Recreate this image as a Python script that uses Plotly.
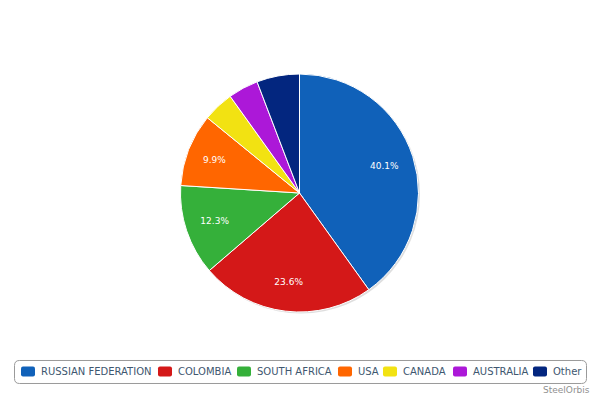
import plotly.graph_objects as go

categories = ["RUSSIAN FEDERATION", "COLOMBIA", "SOUTH AFRICA", "USA", "CANADA", "AUSTRALIA", "Other"]
shares = [40.1, 23.6, 12.3, 9.9, 4.2, 4.1, 5.8]
colors = ["#1061B9", "#D41818", "#35B03A", "#FF6600", "#F2E212", "#AC18D8", "#03267F"]
label_min = 8.0  # only larger slices carry a percentage label

W, H = 600, 397
cx, cy, r = 299.5, 193.0, 119.0

def px_dom(x0, x1, y0, y1):
    return dict(x=[x0 / W, x1 / W], y=[1 - y1 / H, 1 - y0 / H])

texts = [f"{v:.1f}%" if v >= label_min else "" for v in shares]
dom = px_dom(cx - r, cx + r, cy - r, cy + r)

fig = go.Figure()
# soft shadow behind the pie
fig.add_trace(go.Pie(
    labels=["_shadow"], values=[1], sort=False,
    domain=px_dom(cx - r + 1.5, cx + r + 1.5, cy - r + 1.5, cy + r + 1.5),
    marker=dict(colors=["rgba(0,0,0,0.13)"], line=dict(width=0)),
    textinfo="none", hoverinfo="skip", showlegend=False,
))
fig.add_trace(go.Pie(
    labels=categories, values=shares, sort=False, direction="clockwise", rotation=0,
    domain=dom,
    marker=dict(colors=colors, line=dict(color="#FFFFFF", width=1)),
    textinfo="none",
    hovertemplate="%{label}: %{value:.1f}%<extra></extra>",
    showlegend=False,
))
# transparent ring carrying the percentage labels at ~3/4 radius
fig.add_trace(go.Pie(
    labels=categories, values=shares, sort=False, direction="clockwise", rotation=0,
    domain=dom, hole=0.5,
    marker=dict(colors=["rgba(0,0,0,0)"] * len(shares), line=dict(width=0)),
    text=texts, textinfo="text", textposition="inside",
    insidetextorientation="horizontal",
    insidetextfont=dict(family="DejaVu Sans", size=9, color="#FFFFFF"),
    hovertemplate="%{label}: %{value:.1f}%<extra></extra>",
    showlegend=False,
))

shapes = []
annotations = []
bx0, bx1, by0, by1, rad = 14.5, 586.5, 360.5, 383.5, 5
def P(x, y):
    return f"{x / W:.5f},{1 - y / H:.5f}"
path = (f"M {P(bx0 + rad, by0)} L {P(bx1 - rad, by0)} Q {P(bx1, by0)} {P(bx1, by0 + rad)} "
        f"L {P(bx1, by1 - rad)} Q {P(bx1, by1)} {P(bx1 - rad, by1)} "
        f"L {P(bx0 + rad, by1)} Q {P(bx0, by1)} {P(bx0, by1 - rad)} "
        f"L {P(bx0, by0 + rad)} Q {P(bx0, by0)} {P(bx0 + rad, by0)} Z")
shapes.append(dict(type="path", xref="paper", yref="paper", path=path,
                   line=dict(color="#9A9A9A", width=1), fillcolor="rgba(0,0,0,0)"))

item_x = [21, 158, 237, 338, 383, 453, 533]
sy0, sy1 = 366.5, 376.5
for name, col, x in zip(categories, colors, item_x):
    x0, x1 = x, x + 14
    sr = 2
    sp = (f"M {P(x0 + sr, sy0)} L {P(x1 - sr, sy0)} Q {P(x1, sy0)} {P(x1, sy0 + sr)} "
          f"L {P(x1, sy1 - sr)} Q {P(x1, sy1)} {P(x1 - sr, sy1)} "
          f"L {P(x0 + sr, sy1)} Q {P(x0, sy1)} {P(x0, sy1 - sr)} "
          f"L {P(x0, sy0 + sr)} Q {P(x0, sy0)} {P(x0 + sr, sy0)} Z")
    shapes.append(dict(type="path", xref="paper", yref="paper", path=sp,
                       line=dict(width=0), fillcolor=col))
    annotations.append(dict(text=name, xref="paper", yref="paper",
                            x=(x + 18) / W, y=1 - 371.8 / H, xanchor="left", yanchor="middle",
                            showarrow=False, font=dict(family="DejaVu Sans", size=10, color="#3E576F")))

annotations.append(dict(text="SteelOrbis", xref="paper", yref="paper",
                        x=592 / W, y=1 - 389.5 / H, xanchor="right", yanchor="middle",
                        showarrow=False, font=dict(family="DejaVu Sans", size=9, color="#909090")))

fig.update_layout(
    width=W, height=H, margin=dict(l=0, r=0, t=0, b=0),
    paper_bgcolor="#FFFFFF", plot_bgcolor="#FFFFFF",
    showlegend=False, shapes=shapes, annotations=annotations,
    font=dict(family="DejaVu Sans"),
)

fig.write_html("out.html")
